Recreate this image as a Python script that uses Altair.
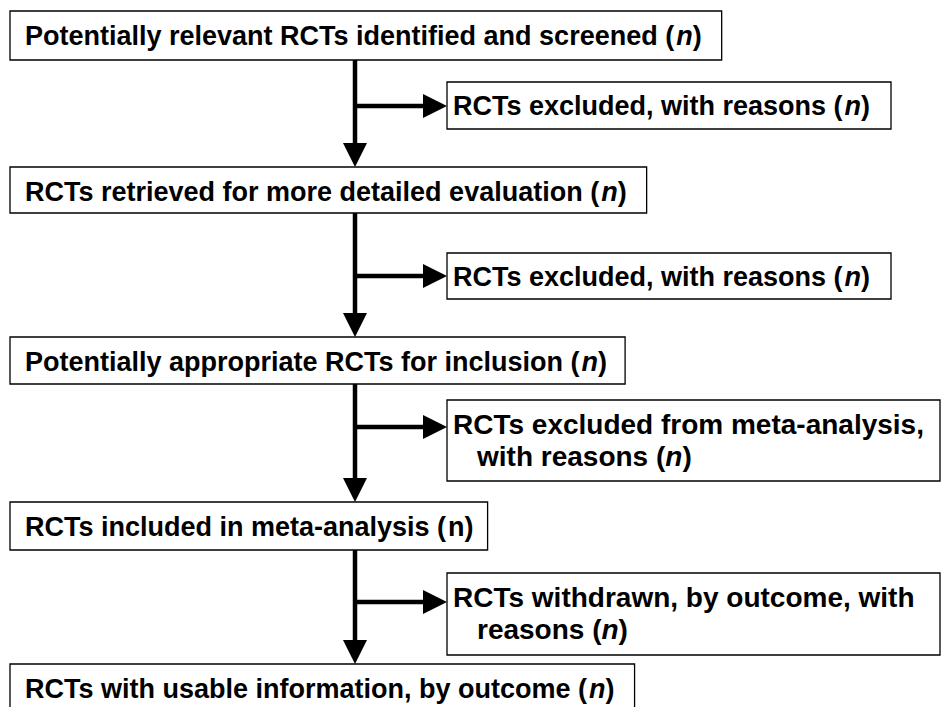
import altair as alt
import pandas as pd

# ---------------- content ----------------
main_steps = [
    "Potentially relevant RCTs identified and screened",
    "RCTs retrieved for more detailed evaluation",
    "Potentially appropriate RCTs for inclusion",
    "RCTs included in meta-analysis",
    "RCTs with usable information, by outcome",
]
main_n_italic = [True, True, True, False, True]

side_steps = [
    ["RCTs excluded, with reasons"],
    ["RCTs excluded, with reasons"],
    ["RCTs excluded from meta-analysis,", "with reasons"],
    ["RCTs withdrawn, by outcome, with", "reasons"],
]
count_label = "n"

# ---------------- layout (page pixels) ----------------
FS = 27
FS_SIDE = [27, 27, 28, 28]
FONT = "Liberation Sans"
main_x0 = 10
main_pad_right = [20, 20, 18, 14, 20]
main_y0 = [11, 167, 337, 502, 664]
main_h = [49, 46, 47, 48, 80]
side_x0 = 447
side_x1 = [891, 891, 940, 940]
side_y0 = [82, 253, 400, 573]
side_y1 = [129, 299, 481, 655]
branch_y = [106, 276, 427, 602]
spine_x = 355
head = 24

# Arial/Liberation Sans Bold advance widths (1/1000 em)
W = {' ': 278, '(': 333, ')': 333, ',': 278, '-': 333, '.': 278,
     'A': 722, 'B': 722, 'C': 722, 'D': 722, 'E': 667, 'F': 611, 'G': 778, 'H': 722,
     'I': 278, 'J': 556, 'K': 722, 'L': 611, 'M': 833, 'N': 722, 'O': 778, 'P': 667,
     'Q': 778, 'R': 722, 'S': 667, 'T': 611, 'U': 722, 'V': 667, 'W': 944, 'X': 667,
     'Y': 667, 'Z': 611,
     'a': 556, 'b': 611, 'c': 556, 'd': 611, 'e': 556, 'f': 333, 'g': 611, 'h': 611,
     'i': 278, 'j': 278, 'k': 556, 'l': 278, 'm': 889, 'n': 611, 'o': 611, 'p': 611,
     'q': 611, 'r': 389, 's': 556, 't': 333, 'u': 611, 'v': 556, 'w': 778, 'x': 556,
     'y': 556, 'z': 500}


def tw(s, fs):
    return sum(W.get(c, 556) for c in s) * fs / 1000.0


boxes, texts, rules, heads = [], [], [], []


def add_line(x, y, line, with_n, italic, fs):
    """Adds one text line; returns x of its right end."""
    if with_n:
        pre = line + " ("
        texts.append(dict(x=x, y=y, t=pre, st="normal", fs=fs))
        xn = x + tw(pre, fs)
        texts.append(dict(x=xn, y=y, t=count_label, st="italic" if italic else "normal", fs=fs))
        xc = xn + tw(count_label, fs)
        texts.append(dict(x=xc, y=y, t=")", st="normal", fs=fs))
        return xc + tw(")", fs)
    texts.append(dict(x=x, y=y, t=line, st="normal", fs=fs))
    return x + tw(line, fs)


main_y1 = []
for i, label in enumerate(main_steps):
    end = add_line(main_x0 + 15, main_y0[i] + 34, label, True, main_n_italic[i], FS)
    y1 = main_y0[i] + main_h[i]
    main_y1.append(y1)
    boxes.append(dict(x=main_x0, x2=end + main_pad_right[i], y=main_y0[i], y2=y1))

for i, lines in enumerate(side_steps):
    boxes.append(dict(x=side_x0, x2=side_x1[i], y=side_y0[i], y2=side_y1[i]))
    fs = FS_SIDE[i]
    if len(lines) == 1:
        add_line(side_x0 + 6, side_y0[i] + 33, lines[0], True, True, fs)
    else:
        add_line(side_x0 + 6, side_y0[i] + 34, lines[0], False, True, fs)
        add_line(side_x0 + 30, side_y0[i] + 66, lines[1], True, True, fs)

for i in range(4):
    rules.append(dict(x=spine_x, x2=spine_x, y=main_y1[i], y2=main_y0[i + 1] - head + 1))
    heads.append(dict(x=spine_x, y=main_y0[i + 1] - head / 2, s="down"))
    rules.append(dict(x=spine_x, x2=side_x0 - head + 1, y=branch_y[i], y2=branch_y[i]))
    heads.append(dict(x=side_x0 - head / 2, y=branch_y[i], s="right"))

xs = alt.Scale(domain=[8, 941], nice=False, zero=False)
ys = alt.Scale(domain=[8, 707], nice=False, zero=False, reverse=True)
X = alt.X("x:Q", scale=xs, axis=None)
Y = alt.Y("y:Q", scale=ys, axis=None)

box_layer = alt.Chart(pd.DataFrame(boxes)).mark_rect(
    fill="white", stroke="black", strokeWidth=1.3, clip=True
).encode(x=X, x2="x2:Q", y=Y, y2="y2:Q")

rule_layer = alt.Chart(pd.DataFrame(rules)).mark_rule(
    color="black", strokeWidth=4.5
).encode(x=X, x2="x2:Q", y=Y, y2="y2:Q")

hd = pd.DataFrame(heads)
down_layer = alt.Chart(hd[hd.s == "down"]).mark_point(
    shape="M-1,-1L1,-1L0,1Z", size=head * head, filled=True, color="black", opacity=1
).encode(x=X, y=Y)
right_layer = alt.Chart(hd[hd.s == "right"]).mark_point(
    shape="M-1,-1L1,0L-1,1Z", size=head * head, filled=True, color="black", opacity=1
).encode(x=X, y=Y)

td = pd.DataFrame(texts)
text_layers = []
for st in ["normal", "italic"]:
    for fs in sorted(td.fs.unique()):
        sub = td[(td.st == st) & (td.fs == fs)]
        if len(sub) == 0:
            continue
        text_layers.append(
            alt.Chart(sub).mark_text(
                align="left", baseline="alphabetic", font=FONT, fontSize=int(fs),
                fontWeight="bold", fontStyle=st, color="black"
            ).encode(x=X, y=Y, text="t:N")
        )

chart = alt.layer(
    rule_layer, down_layer, right_layer, box_layer, *text_layers
).properties(
    width=933, height=699, padding=0,
    autosize=alt.AutoSizeParams(type="none"),
    background="white",
).configure_view(strokeWidth=0)

chart.save("out.html", embed_options={"renderer": "svg", "actions": False})
